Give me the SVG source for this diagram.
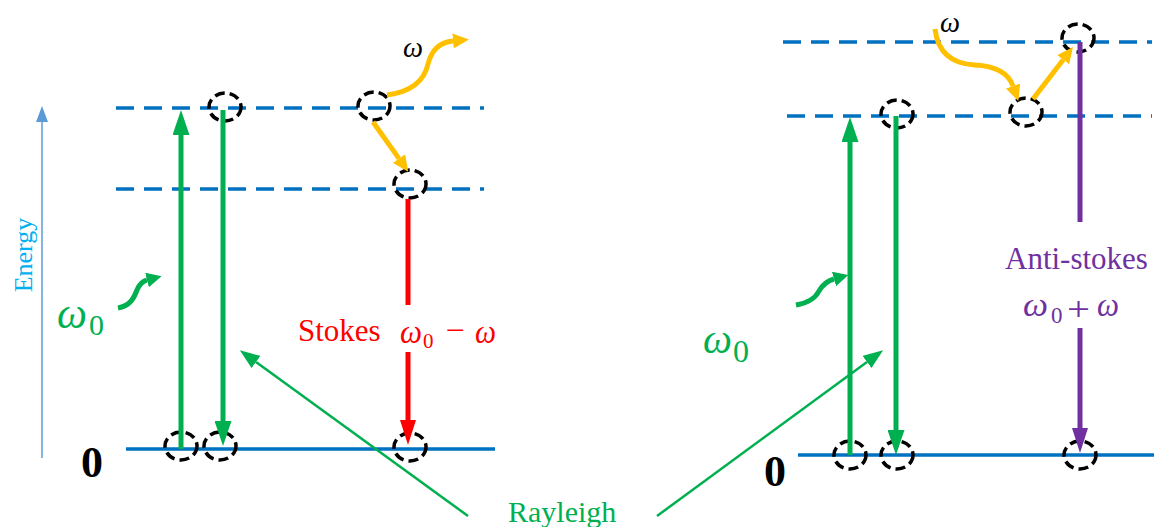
<svg xmlns="http://www.w3.org/2000/svg" width="1154" height="527" viewBox="0 0 1154 527">
<style>
.lvl{stroke:#0070C0;stroke-width:3.5;stroke-dasharray:18 10;fill:none}
.gnd{stroke:#0070C0;stroke-width:3.5;fill:none}
.ring{fill:none;stroke:#000;stroke-width:3.5;stroke-dasharray:10 5}
.g{stroke:#00B050;stroke-width:5;fill:none}
.gt{stroke:#00B050;stroke-width:2.5;fill:none}
.r{stroke:#FF0000;stroke-width:5;fill:none}
.p{stroke:#7030A0;stroke-width:5;fill:none}
.y{stroke:#FFC000;stroke-width:5;fill:none}
.t{font-family:"Liberation Serif","Times New Roman",serif}
.m{font-family:"Liberation Serif","Times New Roman",serif;font-style:italic}
.d{font-family:"Liberation Serif","Times New Roman",serif}
</style>
<defs>
<marker id="mG" viewBox="0 -8.5 25 17" refX="0" refY="0" markerWidth="25" markerHeight="17" markerUnits="userSpaceOnUse" orient="auto"><path d="M0,-8.5L25,0L0,8.5z" fill="#00B050"/></marker>
<marker id="mR" viewBox="0 -8 25 16" refX="0" refY="0" markerWidth="25" markerHeight="16" markerUnits="userSpaceOnUse" orient="auto"><path d="M0,-8L25,0L0,8z" fill="#FF0000"/></marker>
<marker id="mP" viewBox="0 -8 25 16" refX="0" refY="0" markerWidth="25" markerHeight="16" markerUnits="userSpaceOnUse" orient="auto"><path d="M0,-8L25,0L0,8z" fill="#7030A0"/></marker>
<marker id="mY" viewBox="0 -7.5 16 15" refX="0" refY="0" markerWidth="16" markerHeight="15" markerUnits="userSpaceOnUse" orient="auto"><path d="M0,-7.5L16,0L0,7.5z" fill="#FFC000"/></marker>
<marker id="mGw" viewBox="0 -7.5 15 15" refX="0" refY="0" markerWidth="15" markerHeight="15" markerUnits="userSpaceOnUse" orient="auto"><path d="M0,-7.5L15,0L0,7.5z" fill="#00B050"/></marker>
<marker id="mGt" viewBox="0 -7.5 20 15" refX="0" refY="0" markerWidth="20" markerHeight="15" markerUnits="userSpaceOnUse" orient="auto"><path d="M0,-7.5L20,0L0,7.5z" fill="#00B050"/></marker>
<marker id="mB" viewBox="0 -6 16 12" refX="0" refY="0" markerWidth="16" markerHeight="12" markerUnits="userSpaceOnUse" orient="auto"><path d="M0,-6L16,0L0,6z" fill="#5B9BD5"/></marker>
</defs>
<rect width="1154" height="527" fill="#fff"/>

<g id="energy-axis">
<line x1="42" y1="458" x2="42" y2="122" stroke="#5B9BD5" stroke-width="1.5" marker-end="url(#mB)"/>
<text class="t" transform="translate(32,255) rotate(-90)" text-anchor="middle" font-size="26" fill="#00B0F0">Energy</text>
</g>

<g id="levels-left">
<line class="lvl" x1="116" y1="108" x2="484" y2="108"/>
<line class="lvl" x1="116" y1="189" x2="484" y2="189"/>
<line class="gnd" x1="126" y1="449" x2="495" y2="449"/>
<text class="t" x="92" y="477" font-size="44" font-weight="bold" text-anchor="middle">0</text>
</g>

<g id="levels-right">
<line class="lvl" x1="783" y1="42" x2="1152" y2="42"/>
<line class="lvl" x1="787" y1="116" x2="1152" y2="116"/>
<line class="gnd" x1="798" y1="455" x2="1154" y2="455"/>
<text class="t" x="775" y="486" font-size="44" font-weight="bold" text-anchor="middle">0</text>
</g>

<g id="states">
<ellipse class="ring" cx="181" cy="446" rx="16" ry="14"/>
<ellipse class="ring" cx="220" cy="446" rx="16" ry="14"/>
<ellipse class="ring" cx="225" cy="107" rx="16" ry="14"/>
<ellipse class="ring" cx="374" cy="106" rx="16" ry="14"/>
<ellipse class="ring" cx="410" cy="184" rx="16" ry="14"/>
<ellipse class="ring" cx="410" cy="447" rx="16" ry="14"/>
<ellipse class="ring" cx="850" cy="455" rx="16" ry="14"/>
<ellipse class="ring" cx="897" cy="455" rx="16" ry="14"/>
<ellipse class="ring" cx="1080" cy="455" rx="16" ry="14"/>
<ellipse class="ring" cx="897" cy="114" rx="16" ry="14"/>
<ellipse class="ring" cx="1026" cy="112" rx="16" ry="14"/>
<ellipse class="ring" cx="1078" cy="38" rx="16" ry="14"/>
</g>

<g id="connectors">
<line class="g" x1="181" y1="449" x2="181" y2="135" marker-end="url(#mG)"/>
<line class="g" x1="223" y1="110" x2="223" y2="421" marker-end="url(#mG)"/>
<line class="r" x1="408" y1="199" x2="408" y2="305"/>
<line class="r" x1="408" y1="352" x2="408" y2="420" marker-end="url(#mR)"/>
<path class="y" d="M387,95 C410,92 424,82 428,64 C432,48 442,42 453,41" marker-end="url(#mY)"/>
<line class="y" x1="373" y1="122" x2="399" y2="158.6" marker-end="url(#mY)"/>
<path class="g" d="M118,308 C130,306 134,298 137,290 C140,283 143,281 147,280" marker-end="url(#mGw)"/>

<line class="g" x1="850" y1="455" x2="850" y2="142" marker-end="url(#mG)"/>
<line class="g" x1="896" y1="116" x2="896" y2="430" marker-end="url(#mG)"/>
<line class="p" x1="1080" y1="42" x2="1080" y2="222"/>
<line class="p" x1="1080" y1="328" x2="1080" y2="428" marker-end="url(#mP)"/>
<path class="y" d="M935,29 C938,55 955,64 975,65 C995,66 1008,72 1013,86" marker-end="url(#mY)"/>
<line class="y" x1="1033" y1="99" x2="1063.2" y2="59.7" marker-end="url(#mY)"/>
<path class="g" d="M796,305 C808,303 815,299 819,291 C823,284 827,281 834,279" marker-end="url(#mGw)"/>

<line class="gt" x1="468" y1="516" x2="256" y2="362" marker-end="url(#mGt)"/>
<line class="gt" x1="657" y1="516" x2="867" y2="362" marker-end="url(#mGt)"/>
</g>

<g id="labels">
<text class="m" x="57" y="328" font-size="44" fill="#00B050" textLength="30" lengthAdjust="spacingAndGlyphs">ω</text>
<text class="d" x="89" y="335" font-size="30" fill="#00B050">0</text>

<text class="m" x="703" y="353" font-size="42" fill="#00B050" textLength="29" lengthAdjust="spacingAndGlyphs">ω</text>
<text class="d" x="733" y="362" font-size="32" fill="#00B050">0</text>

<text class="t" x="298" y="341" font-size="31" fill="#FF0000">Stokes</text>
<text class="m" x="400" y="343" font-size="33" fill="#FF0000" textLength="22" lengthAdjust="spacingAndGlyphs">ω</text>
<text class="d" x="423" y="348" font-size="21" fill="#FF0000">0</text>
<text class="d" x="446" y="340" font-size="30" fill="#FF0000" textLength="19" lengthAdjust="spacingAndGlyphs">−</text>
<text class="m" x="475" y="343" font-size="33" fill="#FF0000" textLength="21" lengthAdjust="spacingAndGlyphs">ω</text>

<text class="t" x="1005" y="269" font-size="31" fill="#7030A0">Anti-stokes</text>
<text class="m" x="1023" y="316" font-size="33" fill="#7030A0" textLength="25" lengthAdjust="spacingAndGlyphs">ω</text>
<text class="d" x="1051" y="323" font-size="23" fill="#7030A0">0</text>
<text class="d" x="1067" y="320" font-size="34" fill="#7030A0" textLength="23" lengthAdjust="spacingAndGlyphs">+</text>
<text class="m" x="1097" y="316" font-size="33" fill="#7030A0" textLength="22" lengthAdjust="spacingAndGlyphs">ω</text>

<text class="m" x="403" y="57" font-size="30" fill="#000" textLength="20" lengthAdjust="spacingAndGlyphs">ω</text>
<text class="m" x="940" y="32" font-size="30" fill="#000" textLength="20" lengthAdjust="spacingAndGlyphs">ω</text>

<text class="t" x="508" y="522" font-size="30" fill="#00B050">Rayleigh</text>
</g>
</svg>
